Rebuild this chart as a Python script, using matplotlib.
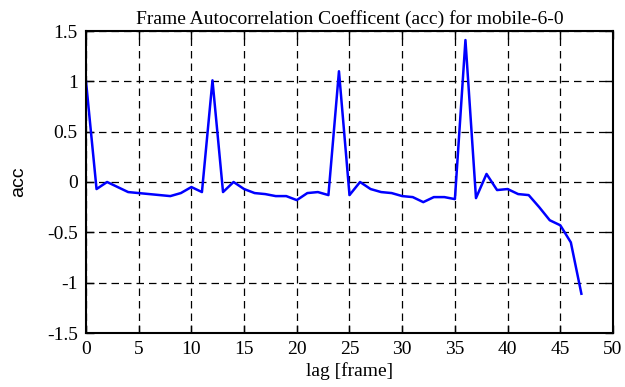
import matplotlib.pyplot as plt
import numpy as np

#  data
lag = np.arange(0, 48)
acc = [1.0, -0.07, 0.0, -0.05, -0.1, -0.11, -0.12, -0.13, -0.14, -0.11,
       -0.05, -0.1, 1.01, -0.1, 0.0, -0.07, -0.11, -0.12, -0.14, -0.14,
       -0.18, -0.11, -0.1, -0.13, 1.1, -0.13, 0.0, -0.07, -0.1, -0.11,
       -0.14, -0.15, -0.2, -0.15, -0.15, -0.17, 1.41, -0.16, 0.08, -0.08,
       -0.07, -0.12, -0.13, -0.25, -0.38, -0.43, -0.6, -1.11]
xticks = np.arange(0, 55, 5)
yticks = [-1.5, -1, -0.5, 0, 0.5, 1, 1.5]
yticklabels = ['-1.5', '-1', '-0.5', '0', '0.5', '1', '1.5']

plt.rcParams['font.family'] = ['Liberation Serif', 'DejaVu Serif']

fig = plt.figure(figsize=(6.25, 3.87), dpi=100)
ax = fig.add_axes([86/625, 1-333/387, (613-86)/625, (333-31)/387])

ax.plot(lag, acc, color='#0000ff', linewidth=1.8)

ax.set_xlim(0, 50)
ax.set_ylim(-1.5, 1.5)
ax.set_xticks(xticks)
ax.set_yticks(yticks)
ax.set_yticklabels(yticklabels)
ax.tick_params(direction='in', top=True, right=True, length=6, width=1,
               labelsize=14, pad=6)

#  dashed grid like gnuplot
ax.grid(True, linestyle=(0, (6, 4)), color='black', linewidth=0.9)
for s in ax.spines.values():
    s.set_linewidth(1.5)

ax.set_xlabel('lag [frame]', fontsize=14, labelpad=3)
ax.set_ylabel('acc', fontsize=14, labelpad=14, family=['Liberation Sans'])
ax.set_title('Frame Autocorrelation Coefficent (acc) for mobile-6-0', fontsize=14, pad=5)

plt.savefig('out.png', dpi=100)
